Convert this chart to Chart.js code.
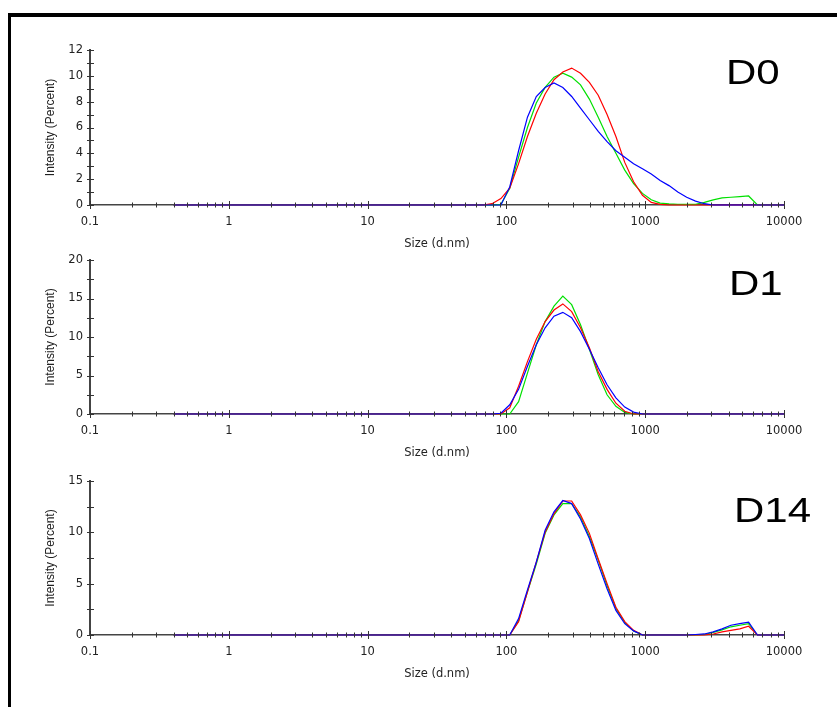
<!DOCTYPE html>
<html>
<head>
<meta charset="utf-8">
<script src="https://cdn.jsdelivr.net/npm/chart.js@4.4.1/dist/chart.umd.min.js"></script>
<style>
  html, body { margin: 0; padding: 0; background: #fff; width: 837px; height: 707px; overflow: hidden; }
  #frame { position: absolute; left: 8px; top: 13px; width: 840px; height: 700px; border-top: 4px solid #000; border-left: 3px solid #000; }
  canvas { position: absolute; left: 0; }
  .tag { position: absolute; font-family: "Liberation Sans", Arial, sans-serif; font-size: 35px; color: #000; line-height: 35px; transform: scaleX(1.2); transform-origin: left top; white-space: nowrap; }
</style>
</head>
<body>
<div id="frame"></div>
<canvas id="c0" width="837" height="255"></canvas>
<canvas id="c1" width="837" height="254"></canvas>
<canvas id="c2" width="837" height="254"></canvas>
<div class="tag" id="t0" style="left:726px; top:54px;">D0</div>
<div class="tag" id="t1" style="left:729px; top:265px;">D1</div>
<div class="tag" id="t2" style="left:734px; top:492px;">D14</div>
<script>
// Particle size bins (d.nm)
const sizes = [0.4,0.4632,0.5365,0.6213,0.7195,0.8332,0.9649,1.117,1.294,1.499,
  1.736,2.010,2.328,2.696,3.122,3.615,4.187,4.849,5.615,6.503,
  7.531,8.721,10.10,11.70,13.54,15.69,18.17,21.04,24.36,28.21,
  32.67,37.84,43.82,50.75,58.77,68.06,78.82,91.28,105.7,122.4,
  141.8,164.2,190.1,220.2,255.0,295.3,342.0,396.1,458.7,531.2,
  615.1,712.4,825.0,955.4,1106,1281,1484,1718,1990,2305,
  2669,3091,3580,4145,4801,5560,6439,7456,8635,10000];

// D0 intensity (%)
const d0Red = [0,0,0,0,0,0,0,0,0,0, 0,0,0,0,0,0,0,0,0,0, 0,0,0,0,0,0,0,0,0,0, 0,0,0,0,0,0,
  0.1,0.5,1.3,3.2,5.3,7.1,8.6,9.7,10.3,10.6,10.2,9.5,8.5,7.0,5.3,3.3,1.8,0.75,0.2,0.05,
  0,0,0,0,0,0,0,0,0,0,0,0,0,0];
const d0Green = [0,0,0,0,0,0,0,0,0,0, 0,0,0,0,0,0,0,0,0,0, 0,0,0,0,0,0,0,0,0,0, 0,0,0,0,0,0,
  0,0.05,1.3,3.7,6.0,7.9,9.1,9.9,10.2,9.9,9.3,8.2,6.8,5.3,4.0,2.7,1.65,0.9,0.4,0.15,
  0.08,0.06,0.05,0.05,0.2,0.4,0.55,0.6,0.65,0.7,0,0,0,0];
const d0Blue = [0,0,0,0,0,0,0,0,0,0, 0,0,0,0,0,0,0,0,0,0, 0,0,0,0,0,0,0,0,0,0, 0,0,0,0,0,0,
  0,0,1.4,4.2,6.8,8.4,9.1,9.45,9.1,8.4,7.5,6.6,5.7,4.9,4.2,3.7,3.2,2.8,2.4,1.9,
  1.5,1.0,0.6,0.3,0.1,0,0,0,0,0,0,0,0,0];

// D1 intensity (%)
const d1Red = [0,0,0,0,0,0,0,0,0,0, 0,0,0,0,0,0,0,0,0,0, 0,0,0,0,0,0,0,0,0,0, 0,0,0,0,0,0,
  0,0,0.8,3.6,6.8,9.7,12.0,13.5,14.3,13.3,11.2,8.6,5.5,3.2,1.4,0.35,0,0,0,0,
  0,0,0,0,0,0,0,0,0,0,0,0,0,0];
const d1Green = [0,0,0,0,0,0,0,0,0,0, 0,0,0,0,0,0,0,0,0,0, 0,0,0,0,0,0,0,0,0,0, 0,0,0,0,0,0,
  0,0,0,1.6,5.3,9.0,12.0,14.0,15.3,14.2,11.6,8.4,5.1,2.5,1.0,0.2,0,0,0,0,
  0,0,0,0,0,0,0,0,0,0,0,0,0,0];
const d1Blue = [0,0,0,0,0,0,0,0,0,0, 0,0,0,0,0,0,0,0,0,0, 0,0,0,0,0,0,0,0,0,0, 0,0,0,0,0,0,
  0,0.1,1.2,3.2,6.2,9.0,11.2,12.7,13.2,12.5,10.7,8.4,6.0,3.8,2.1,0.9,0.25,0,0,0,
  0,0,0,0,0,0,0,0,0,0,0,0,0,0];

// D14 intensity (%)
const d14Red = [0,0,0,0,0,0,0,0,0,0, 0,0,0,0,0,0,0,0,0,0, 0,0,0,0,0,0,0,0,0,0, 0,0,0,0,0,0,
  0,0,0,1.3,4.2,7.1,10.0,11.8,13.05,13.05,11.7,9.9,7.4,5.0,2.7,1.3,0.45,0,0,0,
  0,0,0,0,0,0.1,0.3,0.45,0.6,0.85,0,0,0,0];
const d14Green = [0,0,0,0,0,0,0,0,0,0, 0,0,0,0,0,0,0,0,0,0, 0,0,0,0,0,0,0,0,0,0, 0,0,0,0,0,0,
  0,0,0,1.4,4.2,6.9,9.9,11.7,12.8,12.8,11.5,9.6,7.3,4.8,2.6,1.2,0.4,0,0,0,
  0,0,0,0,0.05,0.25,0.5,0.8,0.95,1.1,0,0,0,0];
const d14Blue = [0,0,0,0,0,0,0,0,0,0, 0,0,0,0,0,0,0,0,0,0, 0,0,0,0,0,0,0,0,0,0, 0,0,0,0,0,0,
  0,0,0,1.6,4.4,7.1,10.2,12.0,13.1,12.8,11.3,9.4,6.9,4.5,2.4,1.1,0.4,0,0,0,
  0,0,0,0.05,0.1,0.3,0.6,0.95,1.1,1.25,0,0,0,0];

// Axis ticks
const xTickValues = [0.1, 1, 10, 100, 1000, 10000];
const xTickLabels = ['0.1', '1', '10', '100', '1000', '10000'];
const xMinorMultipliers = [2, 3, 4, 5, 6, 7, 8, 9];
const panelYMax = [12, 20, 15];
const panelYStep = [2, 5, 5];
const panelYMinor = [1, 2.5, 2.5];
const panelTops = [50, 260, 481];
const panelBottoms = [205, 414, 635];

// first dataset is drawn on top
const seriesColors = ['#0000ff', '#ff0000', '#00e000'];
const panels = [[d0Blue, d0Red, d0Green], [d1Blue, d1Red, d1Green], [d14Blue, d14Red, d14Green]];

const axisTicks = {
  id: 'axisTicks',
  afterDraw(chart, args, opts) {
    const ctx = chart.ctx, x = chart.scales.x, y = chart.scales.y;
    const yb = Math.round(y.getPixelForValue(0));
    const xl = Math.round(x.getPixelForValue(0.1));
    ctx.save();
    ctx.strokeStyle = '#333';
    ctx.lineWidth = 1;
    ctx.beginPath();
    xTickValues.forEach((dec, i) => {
      const px = Math.round(x.getPixelForValue(dec)) + 0.5;
      ctx.moveTo(px, yb - 4); ctx.lineTo(px, yb + 4);
      if (i < xTickValues.length - 1) {
        xMinorMultipliers.forEach(m => {
          const p = Math.round(x.getPixelForValue(dec * m)) + 0.5;
          ctx.moveTo(p, yb - 2.5); ctx.lineTo(p, yb + 2.5);
        });
      }
    });
    for (let v = 0; v <= y.max + 1e-9; v += opts.minor) {
      const py = Math.round(y.getPixelForValue(v)) + 0.5;
      ctx.moveTo(xl - 3, py); ctx.lineTo(xl + 4, py);
    }
    ctx.stroke();
    ctx.restore();
  }
};

panels.forEach((series, p) => {
  const cv = document.getElementById('c' + p);
  const h = (panelBottoms[p] - panelTops[p]) + 20 + 60;
  cv.height = h;
  cv.style.top = (panelTops[p] - 20) + 'px';
  new Chart(cv, {
    type: 'line',
    data: {
      datasets: series.map((arr, i) => ({
        data: sizes.map((s, k) => ({ x: s, y: arr[k] })),
        borderColor: seriesColors[i],
        borderWidth: 1.2,
        pointRadius: 0,
        tension: 0,
        fill: false,
        clip: false
      }))
    },
    options: {
      responsive: false,
      animation: false,
      devicePixelRatio: 1,
      layout: { padding: { top: 20, right: 53, left: 0, bottom: 0 } },
      plugins: { legend: { display: false }, tooltip: { enabled: false }, axisTicks: { minor: panelYMinor[p] } },
      scales: {
        x: {
          type: 'logarithmic',
          min: 0.1, max: 10000,
          afterFit: s => { s.height = 60; },
          afterBuildTicks: s => { s.ticks = xTickValues.map(v => ({ value: v })); },
          grid: { display: false, drawTicks: false },
          border: { display: true, color: '#444', width: 1.5 },
          ticks: {
            autoSkip: false, maxRotation: 0, padding: 10, color: '#222',
            font: { family: 'DejaVu Sans', size: 11.5 },
            callback: (v, i) => xTickLabels[i]
          },
          title: { display: true, text: 'Size (d.nm)', color: '#222', font: { family: 'DejaVu Sans', size: 11.5 }, padding: { top: 0, bottom: 14 } }
        },
        y: {
          type: 'linear',
          min: 0, max: panelYMax[p],
          afterFit: s => { s.width = 90; },
          grid: { display: false, drawTicks: false },
          border: { display: true, color: '#444', width: 2 },
          ticks: {
            stepSize: panelYStep[p], padding: 7, color: '#222',
            font: { family: 'DejaVu Sans', size: 11.5 }
          },
          title: { display: true, text: 'Intensity (Percent)', color: '#222', font: { family: 'Liberation Sans', size: 12 }, padding: { top: 43, bottom: 0 } }
        }
      }
    },
    plugins: [axisTicks]
  });
});
</script>
</body>
</html>
